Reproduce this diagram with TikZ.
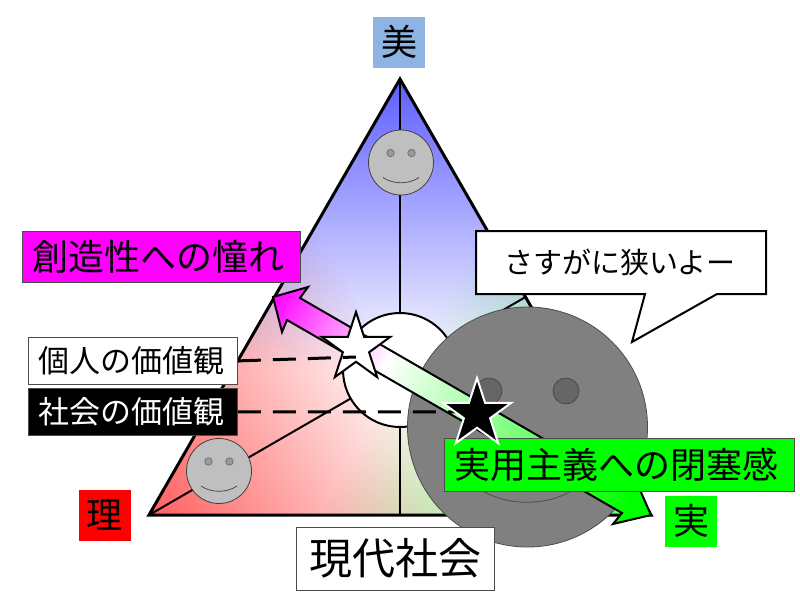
\documentclass[tikz,border=0pt]{standalone}
\usepackage{fontspec}
\setmainfont{Noto Sans CJK JP}
\usepackage{tikz}
\usetikzlibrary{calc,shapes.geometric}
\definecolor{ao}{HTML}{8DB4E2}
\definecolor{aka}{HTML}{FF0000}
\definecolor{midori}{HTML}{00FF00}
\definecolor{murasaki}{HTML}{FF00FF}
\definecolor{nezumi}{HTML}{808080}
\definecolor{usuao}{HTML}{5E5EFF}
\definecolor{usuaka}{HTML}{FF5E5E}
\definecolor{usumidori}{HTML}{5EFF5E}
\pgfdeclareverticalshading{kagebi}{100bp}{color(0bp)=(white); color(41.67bp)=(white); color(75bp)=(usuao); color(100bp)=(usuao)}
\pgfdeclareverticalshading{kageri}{100bp}{color(0bp)=(white); color(41.67bp)=(white); color(75bp)=(usuaka); color(100bp)=(usuaka)}
\pgfdeclareverticalshading{kageji}{100bp}{color(0bp)=(white); color(41.67bp)=(white); color(75bp)=(usumidori); color(100bp)=(usumidori)}
\pgfdeclareverticalshading{yajirushi}{100bp}{color(0bp)=(midori); color(20bp)=(midori); color(63.5bp)=(white); color(83.5bp)=(murasaki); color(100bp)=(murasaki)}

\begin{document}
\begin{tikzpicture}[x=1pt, y=-1pt,
  hen/.style={draw, line width=3pt, line join=miter},
  jiku/.style={draw, line width=2pt},
  kao/.style={circle, draw=black!75, fill=black!25, line width=0.8pt, minimum size=65pt, inner sep=0pt},
  me/.style={circle, draw=black!60, fill=black!40, line width=0.6pt, minimum size=7.5pt, inner sep=0pt},
  kuchi/.style={draw=black!70, line width=0.8pt},
  bx/.style={draw=black!70, line width=0.8pt, anchor=north west, align=left, inner ysep=0pt, inner xsep=10pt, font=\fontsize{31}{31}\selectfont},
  kado/.style={minimum width=52pt, minimum height=51pt, inner sep=0pt, font=\fontsize{36}{36}\selectfont},
  hoshi/.style={star, star points=5, star point ratio=2.618, minimum size=72pt, inner sep=0pt, line width=2pt},
  tensen/.style={line width=3pt, dash pattern=on 23pt off 12pt}]
  \useasboundingbox (0,0) rectangle (800,600);
  \coordinate (bi) at (400,79);
  \coordinate (ri) at (149,515);
  \coordinate (ji) at (651,515);
  \coordinate (chushin) at (400,370);
  \fill[white] (ri) -- (ji) -- (bi) -- cycle;
  \begin{scope}[blend mode=multiply]
    \clip (ri) -- (ji) -- (bi) -- cycle;
    \foreach \k/\a in {kagebi/0, kageri/120, kageji/-120} {
      \shade[shading=\k, transform canvas={rotate around={\a:(chushin)}}] (0,79) rectangle (800,515);
    }
  \end{scope}
  \draw[jiku] (chushin) -- (bi);
  \draw[jiku] (chushin) -- (ri);
  \draw[jiku] (chushin) -- ($(ri)!0.5!(ji)$);
  \draw[jiku] (chushin) -- ($(bi)!0.5!(ji)$);
  \path[hen] (ri) -- (ji) -- (bi) -- cycle;
  \node[circle, draw, fill=white, line width=2pt, minimum size=114pt, inner sep=0pt] (maru) at (chushin) {};
  \foreach \n/\cx/\cy in {kaobi/401/162.5, kaori/219/471} {
    \node[kao] (\n) at (\cx,\cy) {};
    \node[me] (\n l) at ($(\n)+(-10.5,-9.5)$) {};
    \node[me] (\n r) at ($(\n)+(10.5,-9.5)$) {};
    \draw[kuchi] ($(\n)+(-18,15)$) .. controls ($(\n)+(-8,22)$) and ($(\n)+(8,22)$) .. ($(\n)+(18,15)$);
  }
  \path[draw, line width=2pt, fill=white] (476,231) -- (766,231) -- (766,294) -- (717,294) -- (632,342) -- (645,294) -- (476,294) -- cycle;
  \node[font=\fontsize{29}{29}\selectfont] (semai) at (620,262) {さすがに狭いよー};
  \node[circle, draw=black!70, fill=nezumi, line width=0.8pt, minimum size=240pt, inner sep=0pt] (ookao) at (527.5,427) {};
  \node[me, minimum size=26pt, fill=black!60, draw=black!75] (ookaol) at (489,391) {};
  \node[me, minimum size=26pt, fill=black!60, draw=black!75] (ookaor) at (566,391) {};
  \draw[kuchi] (462,470) .. controls (485,513) and (569,513) .. (592,470);
  \path[draw, line width=2pt, shading=yajirushi, shading angle=60, shade]
    (273,297) -- (308,287) -- (300,298) -- (632,490) -- (640,490) -- (651,515) -- (613,524) -- (622,513) -- (287,320) -- (282,332) -- cycle;
  \node[hoshi, draw=black, fill=white] (shiro) at (356,348) {};
  \node[bx, fill=murasaki, text width=258pt, minimum height=51pt, font=\fontsize{36}{36}\selectfont] (akogare) at (22,231) {創造性への憧れ};
  \node[bx, fill=white, text width=189pt, minimum height=47pt] (kojin) at (28,337) {個人の価値観};
  \node[bx, fill=black, text=white, text width=189pt, minimum height=47pt] (shakai) at (28,388) {社会の価値観};
  \draw[tensen] (kojin.east) -- ([yshift=-9pt]shiro.center);
  \draw[tensen] (shakai.east) -- (477,412);
  \node[bx, fill=midori, text width=330pt, minimum height=53pt, font=\fontsize{36}{36}\selectfont] (heisoku) at (444,438) {実用主義への閉塞感};
  \node[hoshi, draw=white, fill=black] (kuro) at (477,414) {};
  \node[kado, fill=ao] (bikado) at (399,42) {美};
  \node[kado, fill=aka] (rikado) at (104.5,515) {理};
  \node[kado, fill=midori] (jikado) at (691,521) {実};
  \node[draw=black!70, fill=white, line width=0.8pt, minimum width=198pt, minimum height=63pt, inner sep=0pt, font=\fontsize{43}{43}\selectfont] (gendai) at (395,558.5) {現代社会};
\end{tikzpicture}
\end{document}
